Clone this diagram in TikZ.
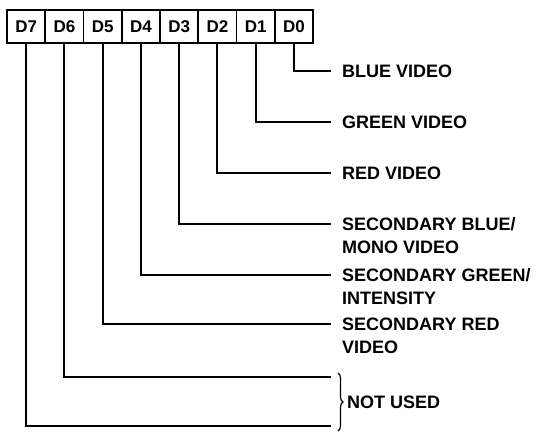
\documentclass[tikz,border=0pt]{standalone}
\usepackage{fontspec}
\setmainfont{Liberation Sans}
\usetikzlibrary{decorations.pathreplacing}
\begin{document}
\begin{tikzpicture}[x=1bp,y=-1bp,
  bitbox/.style={draw,line width=1.8bp,minimum width=38.25bp,minimum height=33bp,inner sep=0pt,outer sep=0pt,font=\fontsize{17bp}{19bp}\selectfont\bfseries},
  wire/.style={line width=1.8bp},
  lbl/.style={anchor=base west,inner sep=0pt,align=left,font=\fontsize{18bp}{23bp}\selectfont\bfseries}]
\useasboundingbox (0,0) rectangle (540,432);
% bit boxes
\foreach \i/\n in {0/7,1/6,2/5,3/4,4/3,5/2,6/1,7/0}{
  \node[bitbox] (d\n) at ({7+38.25*\i+19.125},26.5) {D\n};
}
% corner coordinates and line ends
\foreach \n/\yy in {0/71,1/122,2/173,3/224,4/275,5/324,6/377,7/426}{
  \coordinate (c\n) at (d\n.south |- 0,\yy);
  \coordinate (e\n) at (331,\yy);
  \draw[wire] (d\n.south) -- (c\n) -- (e\n);
}
% labels
\node[lbl] (l0) at (342,77.4) {BLUE VIDEO};
\node[lbl] (l1) at (342,128.4) {GREEN VIDEO};
\node[lbl] (l2) at (342,179.4) {RED VIDEO};
\node[lbl] (l3) at (342,253.4) {SECONDARY BLUE/\\MONO VIDEO};
\node[lbl] (l4) at (342,304.4) {SECONDARY GREEN/\\INTENSITY};
\node[lbl] (l5) at (342,353.4) {SECONDARY RED\\VIDEO};
% brace
\coordinate (bt) at (338,373);
\coordinate (bb) at (338,431);
\draw[line width=1.2bp,decorate,decoration={brace,amplitude=5bp}] (bt) -- (bb);
\node[lbl,anchor=west] (nu) at (347,402) {NOT USED};
\end{tikzpicture}
\end{document}
